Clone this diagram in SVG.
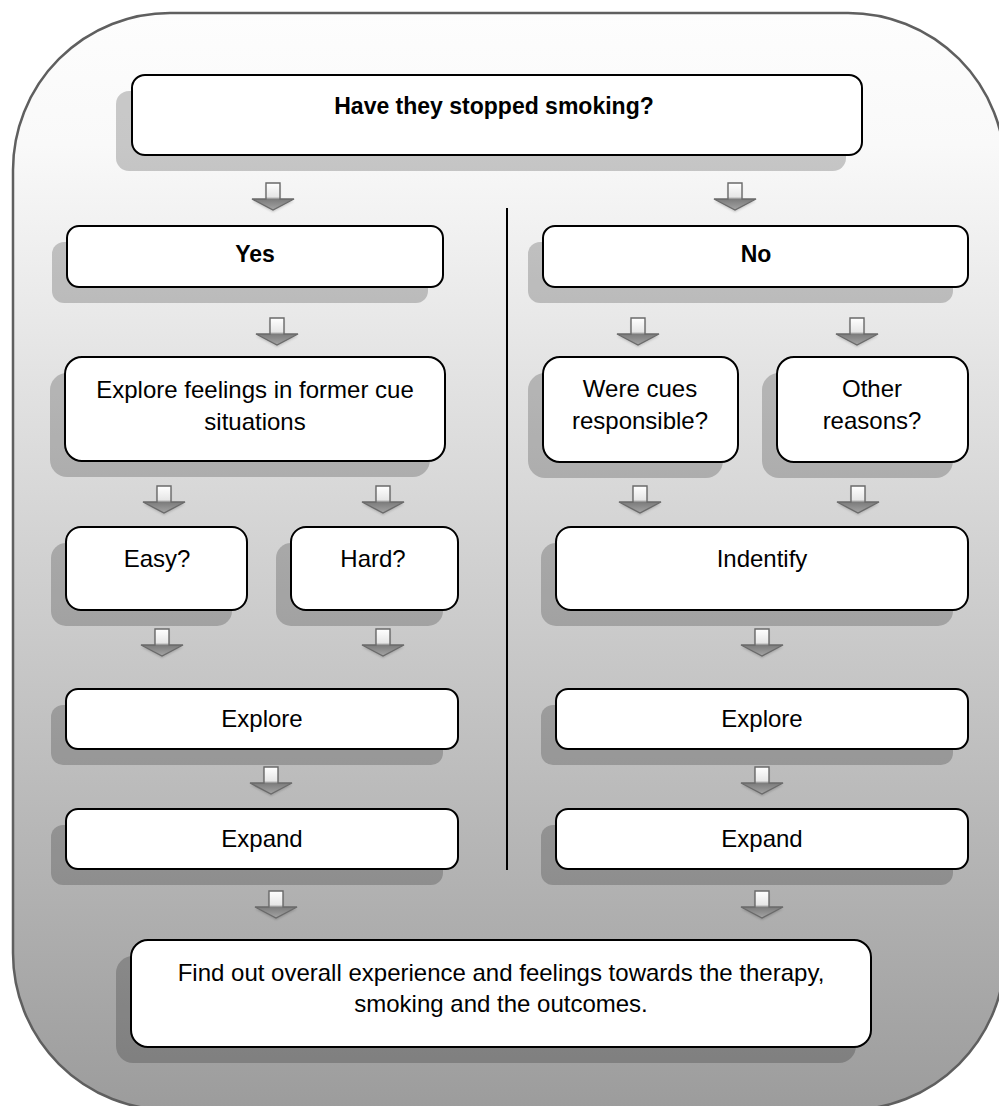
<svg xmlns="http://www.w3.org/2000/svg" xmlns:xlink="http://www.w3.org/1999/xlink" width="999" height="1106" viewBox="0 0 999 1106">
  <style>
    .box { fill: #ffffff; stroke: #000000; stroke-width: 2; }
    .shadow { fill: #000000; fill-opacity: 0.2; }
    .t { font-family: "Liberation Sans", Arial, sans-serif; font-size: 24px; fill: #000000; text-anchor: middle; }
    .b { font-weight: bold; font-size: 23px; }
  </style>
  <defs>
    <linearGradient id="panelFill" x1="0" y1="0" x2="0" y2="1">
      <stop offset="0" stop-color="#fdfdfd"/>
      <stop offset="0.12" stop-color="#f9f9f9"/>
      <stop offset="1" stop-color="#9c9c9c"/>
    </linearGradient>
    <linearGradient id="arrowFill" gradientUnits="userSpaceOnUse" x1="0" y1="0" x2="0" y2="28">
      <stop offset="0" stop-color="#ffffff"/>
      <stop offset="0.5" stop-color="#e6e6e6"/>
      <stop offset="0.58" stop-color="#7c7c7c"/>
      <stop offset="1" stop-color="#a8a8a8"/>
    </linearGradient>
    <filter id="soft" x="-50%" y="-50%" width="200%" height="200%">
      <feGaussianBlur stdDeviation="1.2"/>
    </filter>
    <!-- block arrow, top centre at the origin -->
    <g id="arr">
      <path d="M -7,2 H 7 V 18 H 21 L 0,29 L -21,18 H -7 Z" fill="#000" fill-opacity="0.18" filter="url(#soft)"/>
      <path d="M -7,0 H 7 V 16 H 21 L 0,27 L -21,16 H -7 Z" fill="url(#arrowFill)" stroke="#6a6a6a" stroke-width="1.4" stroke-linejoin="miter"/>
    </g>
  </defs>

  <!-- background panel -->
  <rect x="13" y="13" width="992" height="1097" rx="157" ry="157" fill="url(#panelFill)" stroke="#5f5f5f" stroke-width="2.5"/>

  <!-- connectors -->
  <g id="connectors">
    <line x1="507" y1="208" x2="507" y2="870" stroke="#000" stroke-width="2"/>
    <use xlink:href="#arr" x="273" y="183"/>
    <use xlink:href="#arr" x="735" y="183"/>
    <use xlink:href="#arr" x="277" y="318"/>
    <use xlink:href="#arr" x="638" y="318"/>
    <use xlink:href="#arr" x="857" y="318"/>
    <use xlink:href="#arr" x="164" y="486"/>
    <use xlink:href="#arr" x="383" y="486"/>
    <use xlink:href="#arr" x="640" y="486"/>
    <use xlink:href="#arr" x="858" y="486"/>
    <use xlink:href="#arr" x="162" y="629"/>
    <use xlink:href="#arr" x="383" y="629"/>
    <use xlink:href="#arr" x="762" y="629"/>
    <use xlink:href="#arr" x="271" y="767"/>
    <use xlink:href="#arr" x="762" y="767"/>
    <use xlink:href="#arr" x="276" y="891"/>
    <use xlink:href="#arr" x="762" y="891"/>
  </g>

  <g id="n-stopped">
    <rect class="shadow" x="116" y="91" width="730" height="80" rx="13"/>
    <rect class="box" x="132" y="75" width="730" height="80" rx="13" stroke-width="1.5"/>
    <text class="t b" x="494" y="114">Have they stopped smoking?</text>
  </g>

  <g id="n-yes">
    <rect class="shadow" x="52" y="242" width="376" height="61" rx="12"/>
    <rect class="box" x="67" y="226" width="376" height="61" rx="12"/>
    <text class="t b" x="255" y="262">Yes</text>
  </g>

  <g id="n-no">
    <rect class="shadow" x="528" y="242" width="425" height="61" rx="12"/>
    <rect class="box" x="543" y="226" width="425" height="61" rx="12"/>
    <text class="t b" x="756" y="262">No</text>
  </g>

  <g id="n-feelings">
    <rect class="shadow" x="50" y="373" width="380" height="104" rx="17"/>
    <rect class="box" x="65" y="357" width="380" height="104" rx="17"/>
    <text class="t" x="255" y="398">Explore feelings in former cue</text>
    <text class="t" x="255" y="430">situations</text>
  </g>

  <g id="n-cues">
    <rect class="shadow" x="528" y="373" width="195" height="105" rx="17"/>
    <rect class="box" x="543" y="357" width="195" height="105" rx="17"/>
    <text class="t" x="640" y="397">Were cues</text>
    <text class="t" x="640" y="429">responsible?</text>
  </g>

  <g id="n-other">
    <rect class="shadow" x="762" y="373" width="191" height="105" rx="17"/>
    <rect class="box" x="777" y="357" width="191" height="105" rx="17"/>
    <text class="t" x="872" y="397">Other</text>
    <text class="t" x="872" y="429">reasons?</text>
  </g>

  <g id="n-easy">
    <rect class="shadow" x="51" y="543" width="181" height="83" rx="15"/>
    <rect class="box" x="66" y="527" width="181" height="83" rx="15"/>
    <text class="t" x="157" y="567">Easy?</text>
  </g>

  <g id="n-hard">
    <rect class="shadow" x="276" y="543" width="167" height="83" rx="15"/>
    <rect class="box" x="291" y="527" width="167" height="83" rx="15"/>
    <text class="t" x="373" y="567">Hard?</text>
  </g>

  <g id="n-identify">
    <rect class="shadow" x="541" y="543" width="412" height="83" rx="15"/>
    <rect class="box" x="556" y="527" width="412" height="83" rx="15"/>
    <text class="t" x="762" y="567">Indentify</text>
  </g>

  <g id="n-explore-yes">
    <rect class="shadow" x="51" y="705" width="392" height="60" rx="12"/>
    <rect class="box" x="66" y="689" width="392" height="60" rx="12"/>
    <text class="t" x="262" y="727">Explore</text>
  </g>

  <g id="n-explore-no">
    <rect class="shadow" x="541" y="705" width="412" height="60" rx="12"/>
    <rect class="box" x="556" y="689" width="412" height="60" rx="12"/>
    <text class="t" x="762" y="727">Explore</text>
  </g>

  <g id="n-expand-yes">
    <rect class="shadow" x="51" y="825" width="392" height="60" rx="12"/>
    <rect class="box" x="66" y="809" width="392" height="60" rx="12"/>
    <text class="t" x="262" y="847">Expand</text>
  </g>

  <g id="n-expand-no">
    <rect class="shadow" x="541" y="825" width="412" height="60" rx="12"/>
    <rect class="box" x="556" y="809" width="412" height="60" rx="12"/>
    <text class="t" x="762" y="847">Expand</text>
  </g>

  <g id="n-overall">
    <rect class="shadow" x="116" y="956" width="740" height="107" rx="17"/>
    <rect class="box" x="131" y="940" width="740" height="107" rx="17"/>
    <text class="t" x="501" y="981">Find out overall experience and feelings towards the therapy,</text>
    <text class="t" x="501" y="1012">smoking and the outcomes.</text>
  </g>
</svg>
